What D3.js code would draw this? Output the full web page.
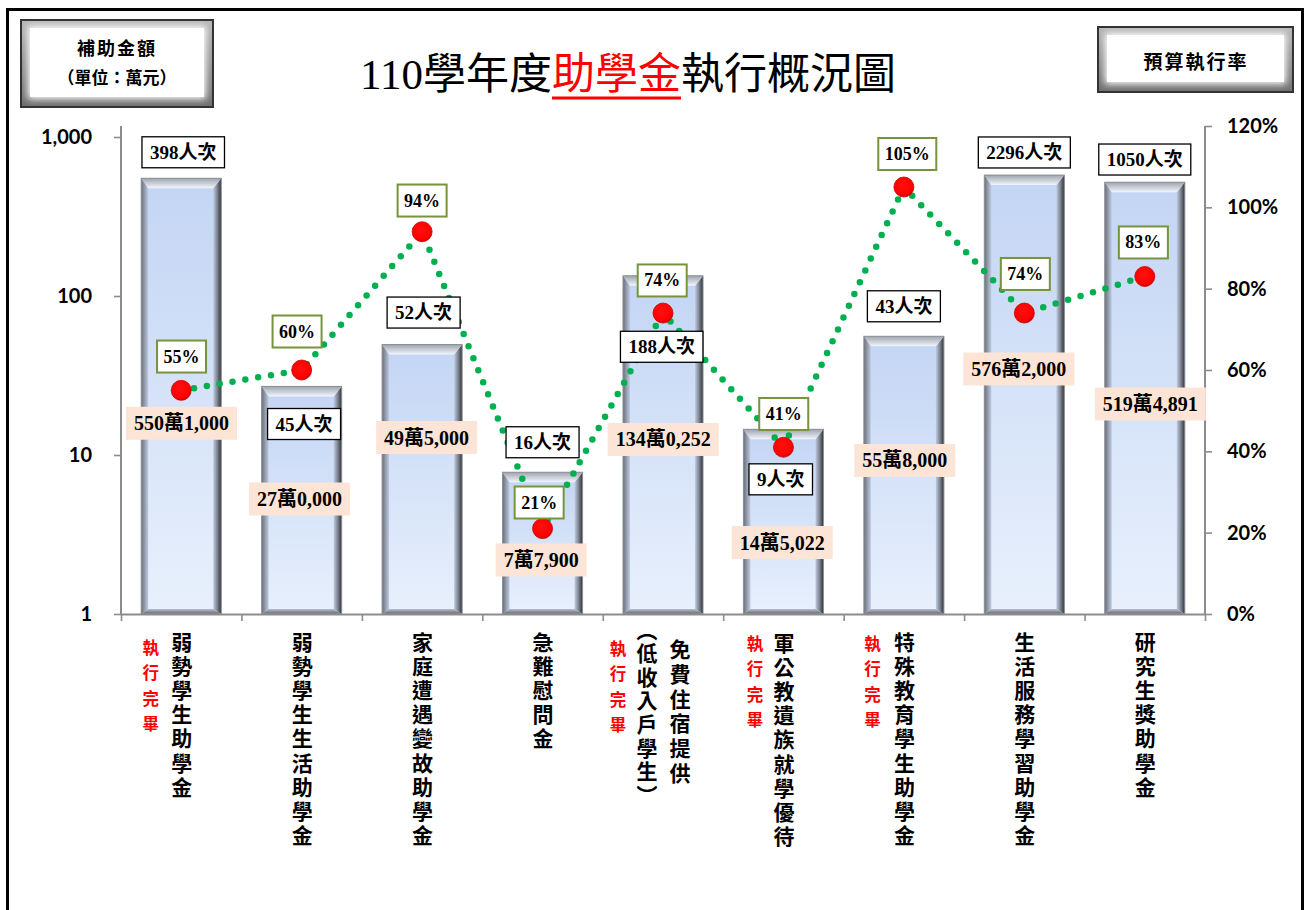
<!DOCTYPE html>
<html><head><meta charset="utf-8">
<script src="https://cdn.jsdelivr.net/npm/d3@7"></script>
<style>body{margin:0;background:#fff}svg{display:block}</style>
</head><body>
<svg id="chart" width="1309" height="910"></svg>
<script>
// ---------- data ----------
const categories = ["弱勢學生助學金","弱勢學生生活助學金","家庭遭遇變故助學金","急難慰問金","免費住宿提供\n（低收入戶學生）","軍公教遺族就學優待","特殊教育學生助學金","生活服務學習助學金","研究生獎助學金"];
const amounts = [550.1, 27, 49.5, 7.79, 134.0252, 14.5022, 55.8, 576.2, 519.4891]; // 萬元
const counts = [398, 45, 52, 16, 188, 9, 43, 2296, 1050];                        // 人次
const rates = [55, 60, 94, 21, 74, 41, 105, 74, 83];                             // %
const completed = [true, false, false, false, true, true, true, false, false];
const leftTicks = [1, 10, 100, 1000];
const rightTicks = [0, 20, 40, 60, 80, 100, 120];
const titleText = ["110學年度", "助學金", "執行概況圖"];
const leftBoxText = ["補助金額", "（單位：萬元）"];
const rightBoxText = "預算執行率";
const doneText = "執行完畢";

// ---------- layout (label placement, px) ----------
const countOff = [[2,-26],[2.4,37.6],[1.5,-32],[0,-30],[-1.3,71],[-2.7,50],[0,-30],[0,-22.6],[0,-22.7]];
const amountOff = [[0.3,245],[-2.1,112.6],[4.5,93],[-1.4,87.7],[0.2,163.7],[-1.2,113.2],[0.9,124.2],[-5.5,193.9],[5.6,221.8]];
const pctOff = [[0.3,-33.8],[-4.6,-38.5],[0,-31.2],[-3.4,-26.1],[-0.8,-32.6],[0.3,-33.3],[3.4,-33],[1,-39.1],[-1.4,-34]];
const std = {dx:0.5,y0:641,pitch:24.1};
const catLayout = [
  [std],[std],[std],[std],
  [{dx:17,y0:648,pitch:24.8},{dx:-16,y0:628.5,pitch:23.6}],
  [{dx:0.5,y0:642,pitch:24.1}],[std],[std],[std]
];
const doneLayout = [{dx:-30.5,y0:647},null,null,null,{dx:-45,y0:648},{dx:-28.5,y0:643},{dx:-31.5,y0:643},null,null];

const svg = d3.select('#chart');
const defs = svg.append('defs');
function lg(id, x2, y2, stops){
  const g = defs.append('linearGradient').attr('id',id).attr('x1',0).attr('y1',0).attr('x2',x2).attr('y2',y2);
  stops.forEach(([o,c]) => g.append('stop').attr('offset',o).attr('stop-color',c));
}
lg('barFill',0,1,[[0,'#C3D5F4'],[1,'#E8F0FC']]);
lg('barLeft',1,0,[[0,'#6A6F78'],[1,'#BFCBE2']]);
lg('barRight',1,0,[[0,'#BFCBE2'],[0.5,'#7E8591'],[1,'#2F3236']]);
lg('barTop',0,1,[[0,'#9EA4AE'],[1,'#F2F6FD']]);
lg('barBottom',0,1,[[0,'#B7C0CF'],[1,'#62666E']]);
lg('boxGray',0,1,[[0,'#b8b8b8'],[1,'#6f6f6f']]);
const soft = defs.append('filter').attr('id','soft').attr('x','-20%').attr('y','-20%').attr('width','140%').attr('height','140%');
soft.append('feGaussianBlur').attr('stdDeviation',3.5);
const rg = defs.append('radialGradient').attr('id','dotG').attr('cx','45%').attr('cy','40%').attr('r','60%');
rg.append('stop').attr('offset',0).attr('stop-color','#FF1010');
rg.append('stop').attr('offset',0.8).attr('stop-color','#FF0000');
rg.append('stop').attr('offset',1).attr('stop-color','#C80000');

const serif = '"Liberation Serif","Noto Sans CJK TC",serif';
const cjk = '"Noto Sans CJK TC",sans-serif';

// outer frame
svg.append('rect').attr('x',7.5).attr('y',9.5).attr('width',1295).attr('height',980)
  .attr('fill','none').attr('stroke','#000').attr('stroke-width',3);

// ---------- scales ----------
const x = d3.scaleBand().domain(d3.range(categories.length)).range([121,1205]).paddingInner(0.3355).paddingOuter(0.1678);
const xb = d3.scaleLinear().domain([0,categories.length]).range([121,1205]);
const yL = d3.scaleLog().domain([1,1000]).range([614,137]);
const yR = d3.scaleLinear().domain([0,120]).range([614,126]);
const bw = x.bandwidth();
const cx = i => x(i) + bw/2;

// ---------- bars ----------
const bars = svg.append('g').selectAll('g').data(amounts).join('g');
bars.each(function(v,i){
  const g = d3.select(this);
  const x0 = x(i), y0 = yL(v), w = bw, h = yL(1) - yL(v);
  const e = 7, t = 10;
  g.append('rect').attr('x',x0).attr('y',y0).attr('width',w).attr('height',h).attr('fill','url(#barFill)');
  g.append('polygon').attr('points',[[x0,y0],[x0+e,y0+t],[x0+e,y0+h-5],[x0,y0+h]].join(' ')).attr('fill','url(#barLeft)');
  g.append('polygon').attr('points',[[x0+w,y0],[x0+w-e-1,y0+t],[x0+w-e-1,y0+h-5],[x0+w,y0+h]].join(' ')).attr('fill','url(#barRight)');
  g.append('polygon').attr('points',[[x0,y0],[x0+w,y0],[x0+w-e-1,y0+t],[x0+e,y0+t]].join(' ')).attr('fill','url(#barTop)');
  g.append('polygon').attr('points',[[x0,y0+h],[x0+e,y0+h-5],[x0+w-e-1,y0+h-5],[x0+w,y0+h]].join(' ')).attr('fill','url(#barBottom)');
  g.append('rect').attr('x',x0).attr('y',y0).attr('width',w).attr('height',h).attr('fill','none').attr('stroke','#8a8e96').attr('stroke-width',1);
});

// ---------- axes ----------
const axisColor = '#8C8C8C';
const gL = svg.append('g').attr('transform','translate(121,0)')
  .call(d3.axisLeft(yL).tickValues(leftTicks).tickFormat(d3.format(',')).tickSize(7).tickSizeOuter(0).tickPadding(22));
gL.select('.domain').remove();
svg.append('line').attr('x1',121).attr('x2',121).attr('y1',126).attr('y2',614).attr('stroke',axisColor).attr('stroke-width',2);

const gR = svg.append('g').attr('transform','translate(1205,0)')
  .call(d3.axisRight(yR).tickValues(rightTicks).tickFormat(d => d + '%').tickSize(7).tickSizeOuter(0).tickPadding(15));
gR.select('.domain').remove();
svg.append('line').attr('x1',1205).attr('x2',1205).attr('y1',126).attr('y2',614).attr('stroke',axisColor).attr('stroke-width',2);

const gB = svg.append('g').attr('transform','translate(0,614)')
  .call(d3.axisBottom(xb).tickValues(d3.range(categories.length+1)).tickFormat('').tickSize(7).tickSizeOuter(0));
gB.select('.domain').attr('stroke',axisColor).attr('stroke-width',2);

[gL,gR,gB].forEach(g => {
  g.selectAll('.tick line').attr('stroke',axisColor).attr('stroke-width',1.6);
  g.selectAll('.tick text').attr('fill','#000').attr('font-family','Lato, "Open Sans", sans-serif')
    .attr('font-weight','bold').attr('font-size',20);
});

// ---------- rate line ----------
const line = d3.line().x((d,i) => cx(i)).y(d => yR(d));
svg.append('path').datum(rates).attr('d',line).attr('fill','none').attr('stroke','#00B050')
  .attr('stroke-width',6.5).attr('stroke-linecap','round').attr('stroke-dasharray','0 13');
svg.append('g').selectAll('circle').data(rates).join('circle')
  .attr('cx',(d,i) => cx(i)).attr('cy',d => yR(d)).attr('r',10)
  .attr('fill','url(#dotG)').attr('stroke','#D00000').attr('stroke-width',0.8);

// ---------- labels ----------
function boxLabel(parent, txt, cxp, cyp, o){
  const g = parent.append('g');
  const r = g.append('rect');
  const t = g.append('text').attr('x',cxp).attr('y',cyp).attr('text-anchor','middle').attr('dominant-baseline','central')
    .attr('font-family',serif).attr('font-weight','bold').attr('font-size',o.fs).attr('fill','#000').text(txt);
  const bb = t.node().getBBox();
  const w = bb.width + o.padX*2, h = o.h;
  r.attr('x',cxp - w/2).attr('y',cyp - h/2).attr('width',w).attr('height',h)
    .attr('fill',o.fill).attr('stroke',o.stroke || 'none').attr('stroke-width',o.sw || 0);
}
const labels = svg.append('g');
const fmtAmount = v => {
  const wan = Math.floor(v);
  const rest = String(Math.round((v - wan) * 10000)).padStart(4,'0');
  return wan + '萬' + rest[0] + ',' + rest.slice(1);
};
amounts.forEach((v,i) => {
  boxLabel(labels, counts[i] + '人次', cx(i) + countOff[i][0], yL(v) + countOff[i][1],
    {fs:19, padX:8, h:31, fill:'#fff', stroke:'#000', sw:1.3});
});
amounts.forEach((v,i) => {
  boxLabel(labels, fmtAmount(v), cx(i) + amountOff[i][0], yL(v) + amountOff[i][1],
    {fs:20, padX:8, h:33, fill:'#FCE4D6'});
});
rates.forEach((p,i) => {
  boxLabel(labels, p + '%', cx(i) + pctOff[i][0], yR(p) + pctOff[i][1],
    {fs:18, padX:6.5, h:32, fill:'#fff', stroke:'#77933C', sw:2});
});

// ---------- category labels (vertical, one glyph per row) ----------
const vert = s => s.replace('（','︵').replace('）','︶');
const catG = svg.append('g');
categories.forEach((c,i) => {
  c.split('\n').forEach((ln,k) => {
    const L = catLayout[i][k];
    Array.from(vert(ln)).forEach((ch,j) => {
      catG.append('text').attr('x',cx(i) + L.dx).attr('y',L.y0 + j*L.pitch)
        .attr('text-anchor','middle').attr('dominant-baseline','central')
        .attr('font-family',cjk).attr('font-weight','bold').attr('font-size',21).attr('fill','#000').text(ch);
    });
  });
  if (completed[i] && doneLayout[i]) {
    Array.from(doneText).forEach((ch,j) => {
      catG.append('text').attr('x',cx(i) + doneLayout[i].dx).attr('y',doneLayout[i].y0 + j*25.3)
        .attr('text-anchor','middle').attr('dominant-baseline','central')
        .attr('font-family',cjk).attr('font-weight','bold').attr('font-size',16.5).attr('fill','#FF0000').text(ch);
    });
  }
});

// ---------- title ----------
const title = svg.append('text').attr('x',628).attr('y',89).attr('text-anchor','middle')
  .attr('font-family',serif).attr('font-size',43);
const colors = ['#000','#FF0000','#000'];
titleText.forEach((s,k) => title.append('tspan').attr('fill',colors[k]).text(s));
const tn = title.node();
const s0 = titleText[0].length, s1 = s0 + titleText[1].length - 1;
const ux1 = tn.getStartPositionOfChar(s0).x, ux2 = tn.getEndPositionOfChar(s1).x;
svg.append('line').attr('x1',ux1).attr('x2',ux2).attr('y1',98).attr('y2',98).attr('stroke','#FF0000').attr('stroke-width',3);

// ---------- header boxes ----------
function bevelBox(x0,y0,w,h){
  const g = svg.append('g');
  g.append('rect').attr('x',x0).attr('y',y0).attr('width',w).attr('height',h).attr('fill','url(#boxGray)');
  g.append('rect').attr('x',x0+7).attr('y',y0+6).attr('width',w-14).attr('height',h-14).attr('fill','#fff').attr('filter','url(#soft)');
  g.append('rect').attr('x',x0+9).attr('y',y0+8).attr('width',w-18).attr('height',h-18).attr('fill','#fff');
  g.append('rect').attr('x',x0).attr('y',y0).attr('width',w).attr('height',h).attr('fill','none').attr('stroke','#333').attr('stroke-width',2);
  return g;
}
const lb = bevelBox(21,20,192,87);
lb.append('text').attr('x',117).attr('y',47).attr('text-anchor','middle').attr('dominant-baseline','central')
  .attr('font-family',cjk).attr('font-weight','bold').attr('font-size',18).attr('letter-spacing',2).text(leftBoxText[0]);
lb.append('text').attr('x',117).attr('y',76).attr('text-anchor','middle').attr('dominant-baseline','central')
  .attr('font-family',cjk).attr('font-weight','bold').attr('font-size',17).text(leftBoxText[1]);
const rb = bevelBox(1098,27,195,65);
rb.append('text').attr('x',1196).attr('y',60).attr('text-anchor','middle').attr('dominant-baseline','central')
  .attr('font-family',cjk).attr('font-weight','bold').attr('font-size',19).attr('letter-spacing',2).text(rightBoxText);
</script>
</body></html>
